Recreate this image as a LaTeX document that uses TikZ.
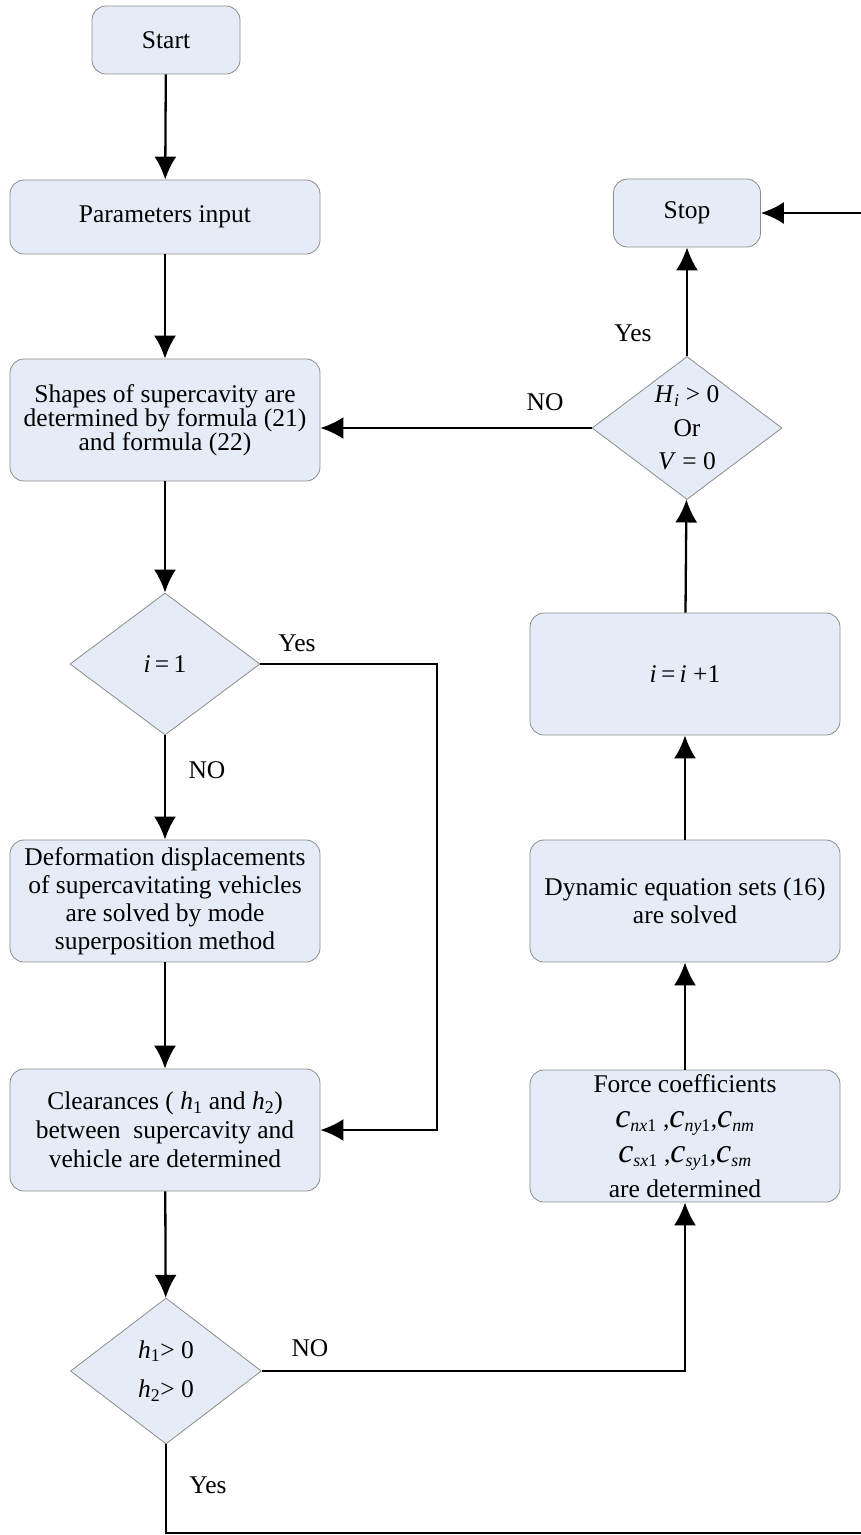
\documentclass[tikz,border=0pt]{standalone}
\usepackage{fontspec}
\setmainfont{Liberation Serif}
\usetikzlibrary{shapes.geometric,arrows.meta}

\definecolor{boxfill}{HTML}{E6ECF7}
\definecolor{boxline}{HTML}{8C8C8C}
\newcommand{\var}[1]{\textit{#1}}
\newcommand{\coef}[1]{{\fontsize{34}{34}\selectfont\textit{c}}\textsubscript{#1}}

\begin{document}
\begin{tikzpicture}[x=1pt,y=-1pt,
    box/.style={draw=boxline, fill=boxfill, line width=0.8pt, rounded corners=14pt,
        inner sep=0pt, align=center, font=\fontsize{25.5}{27.5}\selectfont},
    wide/.style={box, minimum width=310pt, minimum height=122pt},
    test/.style={diamond, draw=boxline, fill=boxfill, line width=0.8pt, inner sep=-10pt,
        aspect=1.33, align=center, font=\fontsize{25.5}{27.5}\selectfont},
    lbl/.style={font=\fontsize{25.5}{27.5}\selectfont, inner sep=0pt},
    flow/.style={line width=2.3pt, -{Latex[length=23pt,width=22pt]}}]
    \useasboundingbox (0,0) rectangle (861,1535);

    % left column
    \node[box, minimum width=148pt, minimum height=68pt] (start) at (166,40) {Start};
    \node[box, minimum width=310pt, minimum height=74pt] (input) at (165,217) {Parameters input};
    \node[wide, font=\fontsize{25.5}{24}\selectfont] (shape) at (165,420)
        {Shapes of supercavity are\\determined by formula (21)\\and formula (22)};
    \node[test, minimum width=190pt, minimum height=142pt] (first) at (165,664) {\var{i}\,=\,1};
    \node[wide, font=\fontsize{25.5}{28}\selectfont] (deform) at (165,901)
        {Deformation displacements\\of supercavitating vehicles\\are solved by mode\\superposition method};
    \node[wide, font=\fontsize{25.5}{29}\selectfont] (gap) at (165,1130)
        {Clearances ( \var{h}\textsubscript{1} and \var{h}\textsubscript{2})\\between\ \ supercavity and\\vehicle are determined};
    \node[test, minimum width=191pt, minimum height=146pt] (check) at (166,1371)
        {\var{h}\textsubscript{1}> 0\\[12pt]\var{h}\textsubscript{2}> 0};

    % right column
    \node[box, minimum width=147pt, minimum height=68pt] (stop) at (687,213) {Stop};
    \node[test, minimum width=190pt, minimum height=143pt] (halt) at (687,428)
        {\var{H}\textsubscript{\var{i}} > 0\\[6pt]Or\\[6pt]\var{V} = 0};
    \node[wide] (next) at (685,674) {\var{i}\,=\,\var{i} +1};
    \node[wide, font=\fontsize{25.5}{28}\selectfont] (solve) at (685,901)
        {Dynamic equation sets (16)\\are solved};
    \node[box, minimum width=310pt, minimum height=132pt, font=\fontsize{25.5}{35}\selectfont] (force) at (685,1136)
        {Force coefficients\\\coef{\var{nx}1} ,\coef{\var{ny}1},\coef{\var{nm}}\\\coef{\var{sx}1} ,\coef{\var{sy}1},\coef{\var{sm}}\\are determined};

    % turning points
    \coordinate (yesA) at (437,664);
    \coordinate (yesB) at (166,1533);
    \coordinate (edge) at (875,1533);

    % labels
    \node[lbl] (l1) at (297,643) {Yes};
    \node[lbl] (l2) at (207,770) {NO};
    \node[lbl] (l3) at (310,1348) {NO};
    \node[lbl] (l4) at (208,1485) {Yes};
    \node[lbl] (l5) at (633,333) {Yes};
    \node[lbl] (l6) at (545,402) {NO};

    % connectors
    \draw[flow] (start) -- (input);
    \draw[flow] (input) -- (shape);
    \draw[flow] (shape) -- (first);
    \draw[flow] (first) -- (deform);
    \draw[flow] (deform) -- (gap);
    \draw[flow] (gap) -- (check);
    \draw[flow] (first.east) -- (yesA) |- (gap.east);
    \draw[flow] (check.east) -| (force.south);
    \draw[flow] (force) -- (solve);
    \draw[flow] (solve) -- (next);
    \draw[flow] (next) -- (halt);
    \draw[flow] (halt) -- (stop);
    \draw[flow] (halt.west) -- (halt.west -| shape.east);
    \draw[flow] (check.south) -- (yesB) -- (edge) |- (stop.east);
\end{tikzpicture}
\end{document}
